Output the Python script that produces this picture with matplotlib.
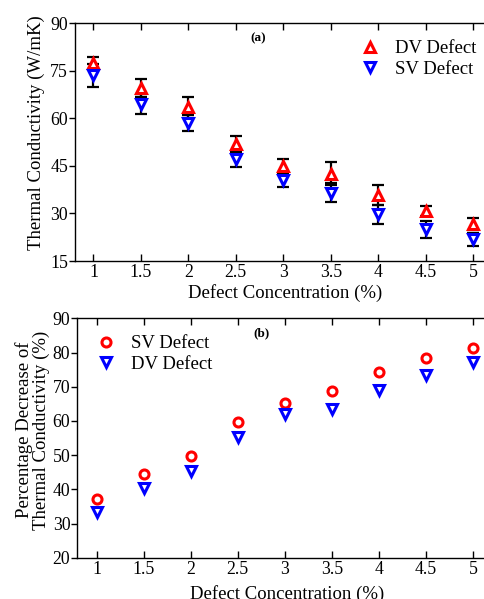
import matplotlib
matplotlib.use("Agg")
import matplotlib.pyplot as plt

plt.rcParams['font.family'] = ['Liberation Serif', 'DejaVu Serif']
plt.rcParams['mathtext.fontset'] = 'stix'

# Defect concentration (%)
concentration = [1, 1.5, 2, 2.5, 3, 3.5, 4, 4.5, 5]

# (a) Thermal conductivity (W/mK) with error bars
dv_kappa = [77.6, 69.5, 63.5, 51.9, 45.1, 42.5, 35.8, 30.9, 26.7]
dv_err = [1.9, 2.8, 3.3, 2.5, 2.1, 3.6, 3.1, 1.6, 2.0]
sv_kappa = [73.6, 64.5, 58.5, 47.1, 40.6, 36.6, 29.7, 25.0, 21.8]
sv_err = [3.6, 3.1, 2.5, 2.3, 2.1, 3.0, 3.0, 2.6, 2.1]

# (b) Percentage decrease of thermal conductivity (%)
sv_decrease = [37.1, 44.4, 49.7, 59.7, 65.1, 68.6, 74.4, 78.3, 81.2]
dv_decrease = [33.5, 40.3, 45.4, 55.4, 62.0, 63.4, 69.0, 73.4, 77.1]

xticks = [1, 1.5, 2, 2.5, 3, 3.5, 4, 4.5, 5]
xticklabels = ['1', '1.5', '2', '2.5', '3', '3.5', '4', '4.5', '5']

RED = '#ff0000'
BLUE = '#0000ff'
FS = 13.5
TFS = 12.8

fig = plt.figure(figsize=(4.84, 5.99), dpi=100)
W, H = 484.0, 599.0

def px_axes(l, t, r, b):
    return fig.add_axes([l / W, 1 - b / H, (r - l) / W, (b - t) / H])

ax1 = px_axes(75, 23.3, 496, 261)
ax2 = px_axes(77.3, 318.3, 497, 557.7)

def style(ax):
    ax.tick_params(axis='x', which='both', direction='in', top=True,
                   length=5, width=1, labelsize=TFS, pad=2.5)
    ax.tick_params(axis='y', which='both', direction='out', right=False,
                   length=4, width=1, labelsize=TFS, pad=1)
    for s in ax.spines.values():
        s.set_linewidth(1.0)
    ax.set_xticks(xticks)
    ax.set_xticklabels(xticklabels)

# ---- panel (a)
ebkw = dict(ecolor='black', elinewidth=1.6, capsize=4.5, capthick=1.6, linestyle='none')
ax1.errorbar(concentration, dv_kappa, yerr=dv_err, fmt='none', zorder=2, **ebkw)
ax1.errorbar(concentration, sv_kappa, yerr=sv_err, fmt='none', zorder=2, **ebkw)
ax1.plot(concentration, dv_kappa, linestyle='none', marker='^', ms=7,
         mfc='white', mec=RED, mew=2.2, zorder=3, label='DV Defect')
ax1.plot(concentration, sv_kappa, linestyle='none', marker='v', ms=7,
         mfc='white', mec=BLUE, mew=2.2, zorder=3, label='SV Defect')
# xlim chosen so that x=1 sits 18 px right of the left spine
ax1.set_xlim(1 - 18.5 / 94.9, 1 - 18.5 / 94.9 + (496 - 75) / 94.9)
ax1.set_ylim(15, 90)
ax1.set_yticks([15, 30, 45, 60, 75, 90])
style(ax1)
ax1.set_xlabel('Defect Concentration (%)', fontsize=FS, labelpad=2)
ax1.set_ylabel('Thermal Conductivity (W/mK)', fontsize=FS)
ax1.yaxis.set_label_coords(-0.072, 0.54)
ax1.text(258 / W, 1 - 38 / H, '(a)', transform=fig.transFigure, fontsize=9.5,
         fontweight='bold', ha='center', va='center')
ax1.legend(loc='upper left', bbox_to_anchor=(361 / W, 1 - 40 / H),
           bbox_transform=fig.transFigure, frameon=False, fontsize=FS,
           borderpad=0, borderaxespad=0, handlelength=1.0, handletextpad=0.8,
           labelspacing=0.2)

# ---- panel (b)
ax2.plot(concentration, sv_decrease, linestyle='none', marker='o', ms=6.5,
         mfc='white', mec=RED, mew=2.2, zorder=3, label='SV Defect')
ax2.plot(concentration, dv_decrease, linestyle='none', marker='v', ms=7,
         mfc='white', mec=BLUE, mew=2.2, zorder=3, label='DV Defect')
ax2.set_xlim(1 - 19.2 / 94.1, 1 - 19.2 / 94.1 + (497 - 77.3) / 94.1)
ax2.set_ylim(20, 90)
ax2.set_yticks([20, 30, 40, 50, 60, 70, 80, 90])
style(ax2)
ax2.set_xlabel('Defect Concentration (%)', fontsize=FS, labelpad=5)
ax2.set_ylabel('Percentage Decrease of\nThermal Conductivity (%)', fontsize=FS,
               linespacing=0.92)
ax2.yaxis.set_label_coords(-0.066, 0.533)
ax2.text(262 / W, 1 - 333 / H, '(b)', transform=fig.transFigure, fontsize=9.5,
         fontweight='bold', ha='center', va='center')
ax2.legend(loc='upper left', bbox_to_anchor=(97 / W, 1 - 335 / H),
           bbox_transform=fig.transFigure, frameon=False, fontsize=FS,
           borderpad=0, borderaxespad=0, handlelength=1.0, handletextpad=0.8,
           labelspacing=0.2)

fig.savefig('out.png', dpi=100)
